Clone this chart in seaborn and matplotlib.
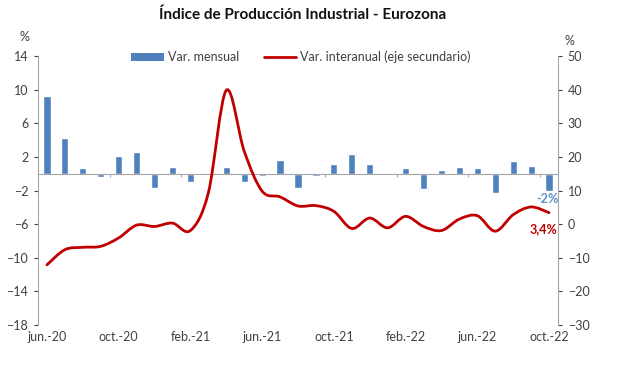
import numpy as np
import matplotlib
matplotlib.use('Agg')
import matplotlib.pyplot as plt
from matplotlib.path import Path
from matplotlib.patches import PathPatch, Patch
from matplotlib.lines import Line2D
import seaborn as sns
import pandas as pd

months = ['jun.-20', 'jul.-20', 'ago.-20', 'sep.-20', 'oct.-20', 'nov.-20', 'dic.-20',
          'ene.-21', 'feb.-21', 'mar.-21', 'abr.-21', 'may.-21', 'jun.-21', 'jul.-21',
          'ago.-21', 'sep.-21', 'oct.-21', 'nov.-21', 'dic.-21', 'ene.-22', 'feb.-22',
          'mar.-22', 'abr.-22', 'may.-22', 'jun.-22', 'jul.-22', 'ago.-22', 'sep.-22',
          'oct.-22']
varMensual = [9.2, 4.2, 0.7, -0.4, 2.1, 2.6, -1.7, 0.8, -1.0, 0.1, 0.8, -1.0, -0.3,
              1.6, -1.7, -0.3, 1.1, 2.3, 1.2, 0.0, 0.7, -1.8, 0.4, 0.8, 0.7, -2.3,
              1.55, 0.9, -2.0]
varInteranual = [-12.1, -7.6, -6.9, -6.6, -4.1, -0.3, -0.7, 0.3, -1.9, 9.3, 39.8, 21.7,
                 9.8, 8.1, 5.4, 5.5, 3.8, -1.3, 1.8, -1.1, 2.3, -0.7, -1.9, 1.5, 2.5,
                 -2.1, 2.8, 5.1, 3.4]
leftTicks = [-18, -14, -10, -6, -2, 2, 6, 10, 14]
rightTicks = [-30, -20, -10, 0, 10, 20, 30, 40, 50]

blue = '#4F81BD'
red = '#C00000'
grey = '#404040'


def smoothPath(x, y):
  # Excel-like smoothed line: cubic Bezier through every point
  x = np.asarray(x, float)
  y = np.asarray(y, float)
  n = len(x)
  verts = [(x[0], y[0])]
  codes = [Path.MOVETO]
  for i in range(n - 1):
    p0 = np.array([x[max(i - 1, 0)], y[max(i - 1, 0)]])
    p1 = np.array([x[i], y[i]])
    p2 = np.array([x[i + 1], y[i + 1]])
    p3 = np.array([x[min(i + 2, n - 1)], y[min(i + 2, n - 1)]])
    c1 = p1 + (p2 - p0) / 6
    c2 = p2 - (p3 - p1) / 6
    verts += [tuple(c1), tuple(c2), tuple(p2)]
    codes += [Path.CURVE4] * 3
  return Path(verts, codes)


sns.set_style('white')
plt.rcParams['font.family'] = ['Lato', 'DejaVu Sans']

df = pd.DataFrame({'mes': months, 'mensual': varMensual, 'interanual': varInteranual})

fig = plt.figure(figsize=(6.17, 3.72), dpi=100)
ax = fig.add_axes([38/617, 1-325/372, 520/617, 269/372])

sns.barplot(data=df, x='mes', y='mensual', color=blue, width=0.4, saturation=1, ax=ax)
ax.set_xlim(-0.5, len(months) - 0.5)
ax.set_ylim(-18, 14)
ax.set_yticks(leftTicks)
ax.tick_params(axis='y', colors=grey, labelsize=9, length=3, width=0.8, direction='out', left=True, pad=4)
ax.set_xticks(range(0, len(months), 4))
ax.set_xticklabels(months[::4], color=grey, fontsize=9)
ax.tick_params(axis='x', length=0, pad=4)
ax.set_xlabel('')
ax.set_ylabel('')
for s in ['top', 'bottom', 'right']:
  ax.spines[s].set_visible(False)
ax.spines['left'].set_color('#A6A6A6')
ax.axhline(0, color='#A6A6A6', linewidth=0.8, zorder=1)
ax.vlines(np.arange(3.5, len(months), 4), -0.4, 0, color='#A6A6A6', linewidth=0.8)

ax2 = ax.twinx()
ax2.set_ylim(-30, 50)
ax2.set_yticks(rightTicks)
ax2.tick_params(axis='y', colors=grey, labelsize=9, length=3, width=0.8, direction='out', right=True, pad=4)
for s in ['top', 'bottom', 'left']:
  ax2.spines[s].set_visible(False)
ax2.spines['right'].set_color('#A6A6A6')
ax2.add_patch(PathPatch(smoothPath(range(len(months)), varInteranual), facecolor='none',
                        edgecolor=red, linewidth=2, capstyle='round'))

ax2.text(len(months) - 1.1, 7.5, '-2%', color='#5B8FCB', fontsize=9, fontweight='bold',
         ha='center', va='center')
ax2.text(len(months) - 1.3, -1.6, '3,4%', color=red, fontsize=9, fontweight='bold',
         ha='center', va='center')

fig.text(24/617, 1-37/372, '%', color=grey, fontsize=9, ha='center', va='center')
fig.text(569/617, 1-41/372, '%', color=grey, fontsize=9, ha='center', va='center')
fig.text(0.49, 1-15/372, 'Índice de Producción Industrial - Eurozona', fontsize=11,
         fontweight='bold', ha='center', va='center', color='#111111')

handles = [Patch(facecolor=blue, edgecolor='none'),
           Line2D([0], [0], color=red, linewidth=2)]
fig.legend(handles, ['Var. mensual', 'Var. interanual (eje secundario)'],
           loc='center', bbox_to_anchor=(301/617, 1-57/372), ncol=2, frameon=False,
           fontsize=9, labelcolor=grey, handlelength=2.6, handleheight=0.6,
           handletextpad=0.3, columnspacing=2.0)

fig.savefig('out.png', dpi=100)
